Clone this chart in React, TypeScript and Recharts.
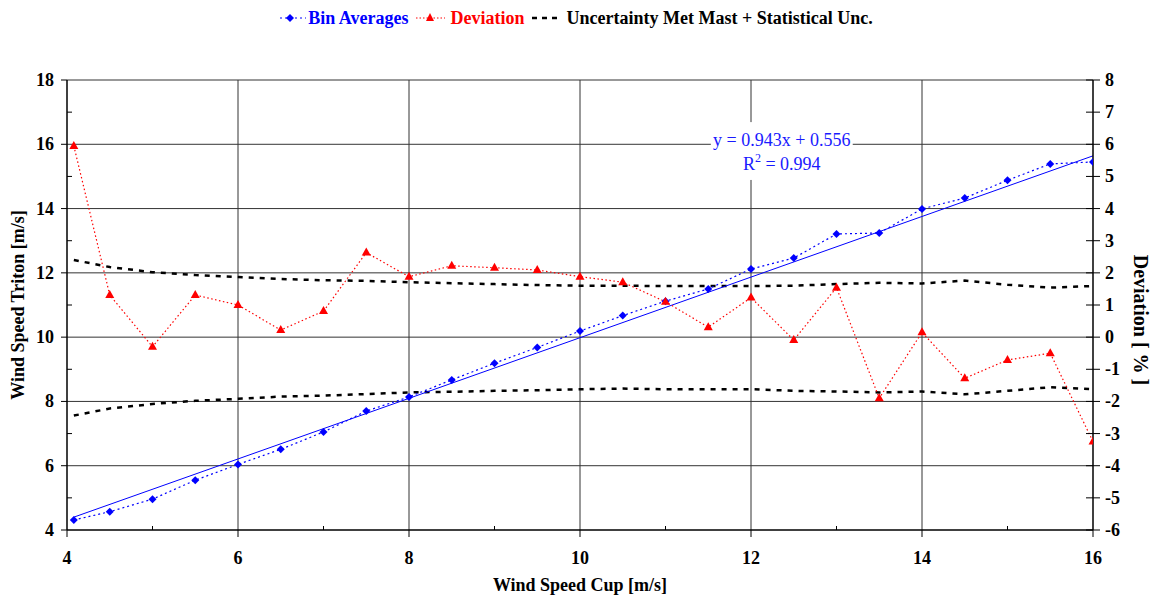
import {
  Line,
  XAxis,
  YAxis,
  Legend,
  Label,
  ComposedChart,
  ReferenceLine,
  ReferenceArea,
} from "recharts";

const windCup = [
  4.08, 4.5, 5, 5.5, 6, 6.5, 7, 7.5, 8, 8.5, 9, 9.5, 10, 10.5, 11, 11.5, 12,
  12.5, 13, 13.5, 14, 14.5, 15, 15.5, 16,
];
const binAverages = [
  4.31, 4.57, 4.96, 5.55, 6.04, 6.51, 7.05, 7.7, 8.14, 8.67, 9.19, 9.68, 10.19,
  10.67, 11.12, 11.5, 12.12, 12.46, 13.21, 13.24, 13.99, 14.33, 14.88, 15.39,
  15.45,
];
const deviation = [
  5.95, 1.31, -0.3, 1.31, 1.0, 0.22, 0.81, 2.63, 1.88, 2.22, 2.16, 2.09, 1.88,
  1.71, 1.1, 0.31, 1.23, -0.09, 1.54, -1.9, 0.15, -1.28, -0.71, -0.5, -3.25,
];
const uncUpper = [
  2.4, 2.18, 2.02, 1.93, 1.87, 1.81, 1.77, 1.75, 1.71, 1.68, 1.65, 1.62, 1.6,
  1.6, 1.59, 1.59, 1.59, 1.6, 1.65, 1.69, 1.67, 1.76, 1.63, 1.54, 1.59,
];
const uncLower = [
  -2.44, -2.22, -2.08, -1.98, -1.92, -1.85, -1.82, -1.77, -1.72, -1.7, -1.67,
  -1.65, -1.62, -1.6, -1.62, -1.62, -1.62, -1.67, -1.69, -1.72, -1.69, -1.78,
  -1.67, -1.56, -1.62,
];
const trendX = [4.08, 16];
const trendY = [4.4, 15.64];

const xTicks = [4, 5, 6, 7, 8, 9, 10, 11, 12, 13, 14, 15, 16];
const leftTicks = [4, 5, 6, 7, 8, 9, 10, 11, 12, 13, 14, 15, 16, 17, 18];
const rightTicks = [-6, -5, -4, -3, -2, -1, 0, 1, 2, 3, 4, 5, 6, 7, 8];
const xGrid = [6, 8, 10, 14];
const yGrid = [6, 8, 10, 12, 14, 18];

// box around the regression text (gridlines stop at its edges)
const eqBoxX = [11.53, 13.19];
const eqBoxY = [14.89, 16.69];

const data = windCup.map((x, i) => ({
  x,
  bin: binAverages[i],
  dev: deviation[i],
  up: uncUpper[i],
  low: uncLower[i],
}));
const trend = trendX.map((x, i) => ({ x, trend: trendY[i] }));

const FONT = "'Liberation Serif', 'Times New Roman', serif";
const BLUE = "#0000ff";
const RED = "#ff0000";
const GRID = "#333";

const Diamond = (props: any) => {
  const { cx, cy } = props;
  if (cx == null || cy == null) return null;
  return (
    <polygon
      points={`${cx},${cy - 4} ${cx + 4},${cy} ${cx},${cy + 4} ${cx - 4},${cy}`}
      fill={BLUE}
    />
  );
};

const Triangle = (props: any) => {
  const { cx, cy } = props;
  if (cx == null || cy == null) return null;
  return (
    <polygon
      points={`${cx},${cy - 5} ${cx + 4.5},${cy + 3} ${cx - 4.5},${cy + 3}`}
      fill={RED}
    />
  );
};

const XTick = (props: any) => {
  const { x, y, payload } = props;
  const major = payload.value % 2 === 0;
  return (
    <g>
      <line x1={x} x2={x} y1={major ? y : y - 4} y2={major ? y + 7 : y} stroke="#000" />
      {major && (
        <text x={x} y={y + 34} textAnchor="middle" fontFamily={FONT} fontWeight="bold" fontSize={18} fill="#000">
          {payload.value}
        </text>
      )}
    </g>
  );
};

const LeftTick = (props: any) => {
  const { x, y, payload } = props;
  const major = payload.value % 2 === 0;
  return (
    <g>
      <line x1={major ? x - 6 : x} x2={major ? x : x + 5} y1={y} y2={y} stroke="#000" />
      {major && (
        <text x={x - 13} y={y + 6} textAnchor="end" fontFamily={FONT} fontWeight="bold" fontSize={18} fill="#000">
          {payload.value}
        </text>
      )}
    </g>
  );
};

const RightTick = (props: any) => {
  const { x, y, payload } = props;
  return (
    <g>
      <line x1={x - 7} x2={x + 7} y1={y} y2={y} stroke="#000" />
      <text x={x + 12} y={y + 6} textAnchor="start" fontFamily={FONT} fontWeight="bold" fontSize={18} fill="#000">
        {payload.value}
      </text>
    </g>
  );
};

const LegendContent = () => (
  <div
    style={{
      height: 30,
      display: "flex",
      justifyContent: "center",
      alignItems: "center",
      fontFamily: FONT,
      fontWeight: "bold",
      fontSize: 18,
    }}
  >
    <svg width={26} height={12}>
      <line x1={0} x2={26} y1={6} y2={6} stroke={BLUE} strokeDasharray="2 3" />
      <polygon points="10,2 14,6 10,10 6,6" fill={BLUE} />
    </svg>
    <span style={{ color: BLUE, marginLeft: 2, marginRight: 8 }}>Bin Averages</span>
    <svg width={29} height={12}>
      <line x1={0} x2={29} y1={6} y2={6} stroke={RED} strokeDasharray="1.5 2" />
      <polygon points="14,1 18,9 10,9" fill={RED} />
    </svg>
    <span style={{ color: RED, marginLeft: 5, marginRight: 8 }}>Deviation</span>
    <svg width={25} height={12}>
      <line x1={0} x2={25} y1={6} y2={6} stroke="#000" strokeWidth={2.5} strokeDasharray="5 5" />
    </svg>
    <span style={{ color: "#000", marginLeft: 9 }}>Uncertainty Met Mast + Statistical Unc.</span>
  </div>
);

const RegressionLabel = (props: any) => {
  const { viewBox } = props;
  const cx = viewBox.x + viewBox.width / 2;
  return (
    <g fontFamily={FONT} fontSize={18} fill="#1a1aff">
      <text x={cx} y={viewBox.y + 24} textAnchor="middle">
        y = 0.943x + 0.556
      </text>
      <text x={cx} y={viewBox.y + 48} textAnchor="middle">
        R<tspan dy={-8} fontSize={12}>2</tspan>
        <tspan dy={8}> = 0.994</tspan>
      </text>
    </g>
  );
};

export default function App() {
  return (
    <div style={{ position: "absolute", left: 0, top: 0 }}>
      <ComposedChart
        width={1153}
        height={598}
        data={data}
        margin={{ top: 50, right: 0, left: 0, bottom: 0 }}
      >
        <Legend
          verticalAlign="top"
          content={<LegendContent />}
          wrapperStyle={{ top: 3, left: 0, width: 1153 }}
        />
        <XAxis
          xAxisId="x"
          type="number"
          dataKey="x"
          domain={[4, 16]}
          ticks={xTicks}
          allowDataOverflow
          height={68}
          tickSize={0}
          tickMargin={0}
          tickLine={false}
          tick={<XTick />}
          axisLine={{ stroke: "#000", strokeWidth: 1.5 }}
        >
          <Label
            content={({ viewBox }: any) => (
              <text
                x={viewBox.x + viewBox.width / 2}
                y={viewBox.y + 61}
                textAnchor="middle"
                fontFamily={FONT}
                fontWeight="bold"
                fontSize={18}
                fill="#000"
              >
                Wind Speed Cup [m/s]
              </text>
            )}
          />
        </XAxis>
        <YAxis
          yAxisId="left"
          type="number"
          domain={[4, 18]}
          ticks={leftTicks}
          width={67}
          tickSize={0}
          tickMargin={0}
          tickLine={false}
          tick={<LeftTick />}
          axisLine={{ stroke: "#000", strokeWidth: 1.5 }}
        >
          <Label
            content={({ viewBox }: any) => {
              const x = viewBox.x + 24;
              const y = viewBox.y + viewBox.height / 2;
              return (
                <text
                  x={x}
                  y={y}
                  transform={`rotate(-90 ${x} ${y})`}
                  textAnchor="middle"
                  fontFamily={FONT}
                  fontWeight="bold"
                  fontSize={18}
                  fill="#000"
                >
                  Wind Speed Triton [m/s]
                </text>
              );
            }}
          />
        </YAxis>
        <YAxis
          yAxisId="right"
          orientation="right"
          type="number"
          domain={[-6, 8]}
          ticks={rightTicks}
          width={60}
          tickSize={0}
          tickMargin={0}
          tickLine={false}
          tick={<RightTick />}
          axisLine={{ stroke: "#000", strokeWidth: 1.5 }}
        >
          <Label
            content={({ viewBox }: any) => {
              const x = viewBox.x + 41;
              const y = viewBox.y + viewBox.height / 2 + 15;
              return (
                <text
                  x={x}
                  y={y}
                  transform={`rotate(90 ${x} ${y})`}
                  textAnchor="middle"
                  fontFamily={FONT}
                  fontWeight="bold"
                  fontSize={20}
                  fill="#000"
                >
                  Deviation [ % ]
                </text>
              );
            }}
          />
        </YAxis>

        {xGrid.map((v) => (
          <ReferenceLine key={"gx" + v} xAxisId="x" yAxisId="left" x={v} stroke={GRID} />
        ))}
        {yGrid.map((v) => (
          <ReferenceLine key={"gy" + v} xAxisId="x" yAxisId="left" y={v} stroke={GRID} />
        ))}
        <ReferenceLine
          xAxisId="x"
          yAxisId="left"
          stroke={GRID}
          segment={[{ x: 4, y: 16 }, { x: eqBoxX[0], y: 16 }]}
        />
        <ReferenceLine
          xAxisId="x"
          yAxisId="left"
          stroke={GRID}
          segment={[{ x: eqBoxX[1], y: 16 }, { x: 16, y: 16 }]}
        />
        <ReferenceLine
          xAxisId="x"
          yAxisId="left"
          stroke={GRID}
          segment={[{ x: 12, y: 4 }, { x: 12, y: eqBoxY[0] }]}
        />
        <ReferenceLine
          xAxisId="x"
          yAxisId="left"
          stroke={GRID}
          segment={[{ x: 12, y: eqBoxY[1] }, { x: 12, y: 18 }]}
        />
        <ReferenceArea
          xAxisId="x"
          yAxisId="left"
          x1={eqBoxX[0]}
          x2={eqBoxX[1]}
          y1={eqBoxY[0]}
          y2={eqBoxY[1]}
          fill="none"
          fillOpacity={0}
          stroke="none"
          label={<RegressionLabel />}
        />

        <Line
          xAxisId="x"
          yAxisId="right"
          dataKey="up"
          stroke="#000"
          strokeWidth={2.5}
          strokeDasharray="5 6"
          dot={false}
          isAnimationActive={false}
        />
        <Line
          xAxisId="x"
          yAxisId="right"
          dataKey="low"
          stroke="#000"
          strokeWidth={2.5}
          strokeDasharray="5 6"
          dot={false}
          isAnimationActive={false}
        />
        <Line
          xAxisId="x"
          yAxisId="left"
          data={trend}
          dataKey="trend"
          stroke={BLUE}
          strokeWidth={1}
          dot={false}
          isAnimationActive={false}
        />
        <Line
          xAxisId="x"
          yAxisId="left"
          dataKey="bin"
          stroke={BLUE}
          strokeWidth={1.2}
          strokeDasharray="2 3"
          dot={<Diamond />}
          isAnimationActive={false}
        />
        <Line
          xAxisId="x"
          yAxisId="right"
          dataKey="dev"
          stroke={RED}
          strokeWidth={1.2}
          strokeDasharray="1.5 2.5"
          dot={<Triangle />}
          isAnimationActive={false}
        />
      </ComposedChart>
    </div>
  );
}
